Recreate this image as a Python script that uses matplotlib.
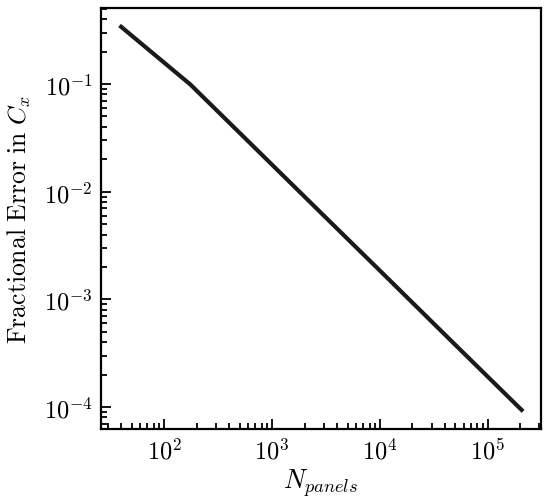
import matplotlib
matplotlib.use("Agg")
import matplotlib.pyplot as plt

# panel count vs fractional error in C_x
n_panels = [40, 175, 700, 2800, 11000, 45000, 205000]
frac_error = [0.34, 0.099, 0.0253, 0.00645, 0.00168, 0.000418, 0.000094]

plt.rcParams["mathtext.fontset"] = "cm"
plt.rcParams["font.family"] = "serif"
plt.rcParams["font.serif"] = ["cmr10", "DejaVu Serif"]
plt.rcParams["axes.formatter.use_mathtext"] = True

fig = plt.figure(figsize=(5.5, 5.02), dpi=100)
ax = fig.add_axes([0.1836, 0.1434, 0.80, 0.8386])

ax.loglog(n_panels, frac_error, color="#1a1a1a", lw=3)

ax.set_xlim(26, 3.1e5)
ax.set_ylim(6.25e-5, 0.508)

ax.set_xlabel(r"$N_{panels}$", fontsize=19, labelpad=2)
ax.set_ylabel(r"$\mathrm{Fractional\ Error\ in}\ C_x$", fontsize=18.5, labelpad=8)

ax.tick_params(which="both", direction="in", labelsize=17.5, width=1.3)
ax.tick_params(which="major", length=7, pad=6)
ax.tick_params(which="minor", length=4)
for s in ax.spines.values():
    s.set_linewidth(1.6)

fig.savefig("out.png", dpi=100)
